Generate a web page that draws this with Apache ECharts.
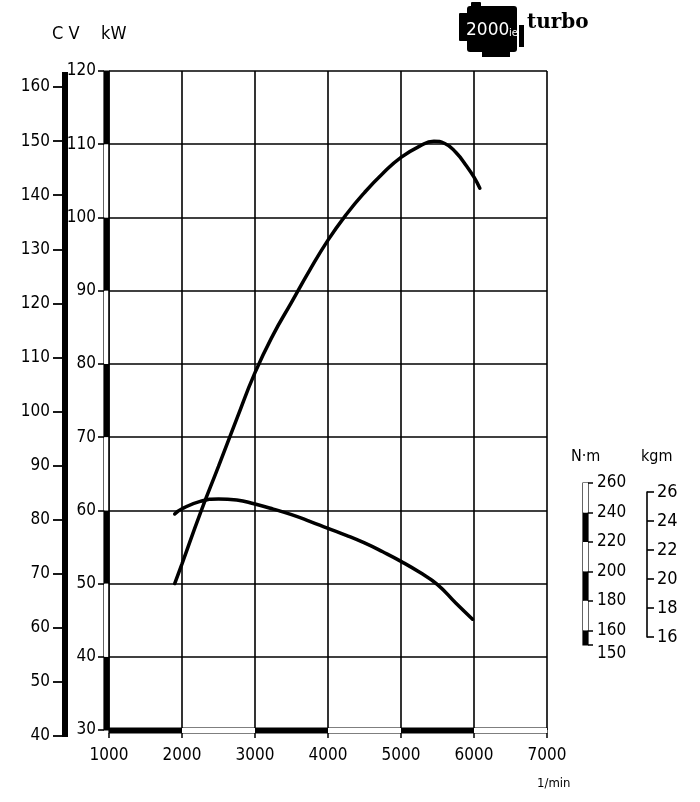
<!DOCTYPE html>
<html><head><meta charset="utf-8">
<script src="https://cdn.jsdelivr.net/npm/echarts@6.0.0/dist/echarts.min.js"></script>
<style>html,body{margin:0;padding:0;background:#fff}#c{width:700px;height:802px}</style>
</head><body><div id="c"></div>
<script>
// ---- data ----
const rpmMin = 1000, rpmMax = 7000, rpmStep = 1000;
const kwMin = 30, kwMax = 120, kwStep = 10;
const cvMin = 40, cvMax = 160, cvStep = 10;
const nmMin = 150, nmMax = 260;
const nmTicksMain = [160, 180, 200, 220, 240, 260];
const nmTicksExtra = [150];
const kgmMin = 16, kgmMax = 26, kgmStep = 2;

const powerRpm = [1900, 2000, 2250, 2500, 2750, 3000, 3250, 3500, 3750, 4000, 4250, 4500, 4750, 5000, 5250, 5450, 5600, 5750, 5900, 6000, 6080];
const powerKw  = [50.0, 52.7, 59.6, 66.0, 72.5, 78.8, 84.0, 88.4, 92.8, 96.9, 100.4, 103.4, 106.0, 108.2, 109.7, 110.4, 110.1, 108.9, 107.0, 105.5, 104.0];

const torqueRpm = [1900, 2000, 2250, 2500, 2750, 3000, 3250, 3500, 3750, 4000, 4250, 4500, 4750, 5000, 5250, 5500, 5750, 5980];
const torqueNm  = [239, 242.5, 247.5, 249.2, 248.5, 245.7, 242.3, 238.5, 234, 229.2, 224.5, 219.3, 213.3, 206.8, 199.5, 191, 178.5, 167.5];

// ---- layout ----
const FONT = "'Liberation Sans Narrow','DejaVu Sans Condensed',sans-serif";
const K = '#000';
const powerData = powerRpm.map((r, i) => [r, powerKw[i]]);
const torqueData = torqueRpm.map((r, i) => [r, torqueNm[i]]);
const noZero = { show: false, onZero: false };
const hiddenX = g => ({ type: 'value', gridIndex: g, show: false, min: 0, max: 1, axisLine: noZero });
const hiddenY = g => ({ type: 'value', gridIndex: g, show: false, min: 0, max: 1, axisLine: noZero });
const plain = v => String(v);
const lbl = (size, margin) => ({ show: true, color: K, fontFamily: FONT, fontSize: size, margin: margin,
  formatter: plain, showMinLabel: true, showMaxLabel: true, hideOverlap: false });
const nmAxis = (vals, vAlign) => ({ type: 'value', gridIndex: 5, min: nmMin, max: nmMax, position: 'right', offset: 0,
  axisLine: noZero,
  axisTick: { show: true, length: 5, customValues: vals, lineStyle: { color: K, width: 1.5 } },
  axisLabel: Object.assign(lbl(17, 9), { customValues: vals, verticalAlign: vAlign }),
  splitLine: { show: false } });

const option = {
  animation: false,
  backgroundColor: '#fff',
  grid: [
    { left: 109, top: 71, width: 438, height: 659, show: false },                       // 0 main
    { left: 104, top: 71, width: 5, height: 659, show: true, borderColor: K, borderWidth: 1.2 }, // 1 kW bar
    { left: 109, top: 728, width: 438, height: 5, show: true, borderColor: K, borderWidth: 1.2 }, // 2 rpm bar
    { left: 62, top: 72, width: 6, height: 665, show: true, backgroundColor: K, borderWidth: 0 }, // 3 CV bar
    { left: 62, top: 87, width: 6, height: 649, show: false },                           // 4 CV axis
    { left: 583, top: 483, width: 5, height: 162, show: true, borderColor: K, borderWidth: 1.2 }, // 5 Nm bar
    { left: 109, top: 483, width: 438, height: 162, show: false },                       // 6 torque
    { left: 600, top: 492, width: 47, height: 145, show: false }                         // 7 kgm
  ],
  xAxis: [
    { type: 'value', gridIndex: 0, min: rpmMin, max: rpmMax, interval: rpmStep,
      axisLine: noZero, axisTick: { show: false }, axisLabel: { show: false },
      splitLine: { show: true, lineStyle: { color: K, width: 1.6 } } },
    { type: 'value', gridIndex: 2, min: rpmMin, max: rpmMax, interval: rpmStep, position: 'bottom',
      axisLine: noZero,
      axisTick: { show: true, length: 5, lineStyle: { color: K, width: 1.5 } },
      axisLabel: lbl(17, 14),
      splitLine: { show: false },
      splitArea: { show: true, areaStyle: { color: [K, '#fff'] } } },
    hiddenX(1), hiddenX(3), hiddenX(4), hiddenX(5),
    { type: 'value', gridIndex: 6, show: false, min: rpmMin, max: rpmMax, axisLine: noZero },
    hiddenX(7)
  ],
  yAxis: [
    { type: 'value', gridIndex: 0, min: kwMin, max: kwMax, interval: kwStep,
      axisLine: noZero, axisTick: { show: false }, axisLabel: { show: false },
      splitLine: { show: true, lineStyle: { color: K, width: 1.6 } } },
    { type: 'value', gridIndex: 1, min: kwMin, max: kwMax, interval: kwStep, position: 'left',
      axisLine: noZero,
      axisTick: { show: true, length: 6, lineStyle: { color: K, width: 1.6 } },
      axisLabel: lbl(17, 8),
      splitLine: { show: false },
      splitArea: { show: true, areaStyle: { color: [K, '#fff'] } } },
    hiddenY(2), hiddenY(3),
    { type: 'value', gridIndex: 4, min: cvMin, max: cvMax, interval: cvStep, position: 'left',
      axisLine: noZero,
      axisTick: { show: true, length: 9, lineStyle: { color: K, width: 1.8 } },
      axisLabel: lbl(17, 12),
      splitLine: { show: false } },
    { type: 'value', gridIndex: 5, min: nmMin, max: nmMax, interval: 10, position: 'left',
      axisLine: noZero, axisTick: { show: false }, axisLabel: { show: false },
      splitLine: { show: false },
      splitArea: { show: true, areaStyle: { color: [K, '#fff', '#fff', K] } } },
    nmAxis(nmTicksMain, 'middle'),
    { type: 'value', gridIndex: 6, show: false, min: nmMin, max: nmMax, axisLine: noZero },
    { type: 'value', gridIndex: 7, min: kgmMin, max: kgmMax, interval: kgmStep, position: 'right',
      axisLine: { show: true, onZero: false, lineStyle: { color: K, width: 1.6 } },
      axisTick: { show: true, length: 7, lineStyle: { color: K, width: 1.6 } },
      axisLabel: lbl(18, 10),
      splitLine: { show: false } },
    nmAxis(nmTicksExtra, 'top')
  ],
  series: [
    { name: 'kW', type: 'line', xAxisIndex: 0, yAxisIndex: 0, data: powerData, smooth: 0.5,
      showSymbol: false, symbol: 'none', clip: false, z: 5,
      lineStyle: { color: K, width: 3.5, cap: 'round' } },
    { name: 'Nm', type: 'line', xAxisIndex: 6, yAxisIndex: 7, data: torqueData, smooth: 0.5,
      showSymbol: false, symbol: 'none', clip: false, z: 5,
      lineStyle: { color: K, width: 3.5, cap: 'round' } }
  ],
  graphic: [
    { type: 'text', left: 52, top: 25, style: { text: 'C V', font: "18px " + FONT, fill: K } },
    { type: 'text', left: 101, top: 25, style: { text: 'kW', font: "18px " + FONT, fill: K } },
    { type: 'text', left: 571, top: 449, style: { text: 'N·m', font: "16px " + FONT, fill: K } },
    { type: 'text', left: 641, top: 449, style: { text: 'kgm', font: "16px " + FONT, fill: K } },
    { type: 'text', left: 537, top: 777, style: { text: '1/min', font: "13px " + FONT, fill: K } },
    // logo
    { type: 'rect', shape: { x: 467, y: 6, width: 50, height: 46, r: 3 }, style: { fill: K } },
    { type: 'rect', shape: { x: 471, y: 2, width: 10, height: 6, r: 1 }, style: { fill: K } },
    { type: 'rect', shape: { x: 459, y: 13, width: 9, height: 28, r: 1 }, style: { fill: K } },
    { type: 'rect', shape: { x: 519, y: 25, width: 5, height: 22 }, style: { fill: K } },
    { type: 'rect', shape: { x: 482, y: 48, width: 28, height: 9 }, style: { fill: K } },
    { type: 'text', left: 466, top: 22, style: { text: '2000', font: "17px 'DejaVu Sans',sans-serif", fill: '#fff' } },
    { type: 'text', left: 509, top: 28, style: { text: 'ie', font: "10px 'DejaVu Sans',sans-serif", fill: '#fff' } },
    { type: 'text', left: 527, top: 13, style: { text: 'turbo', font: "bold 20px 'DejaVu Serif',serif", fill: K } }
  ]
};
echarts.init(document.getElementById('c'), null, { renderer: 'canvas' }).setOption(option);
</script>
</body></html>
